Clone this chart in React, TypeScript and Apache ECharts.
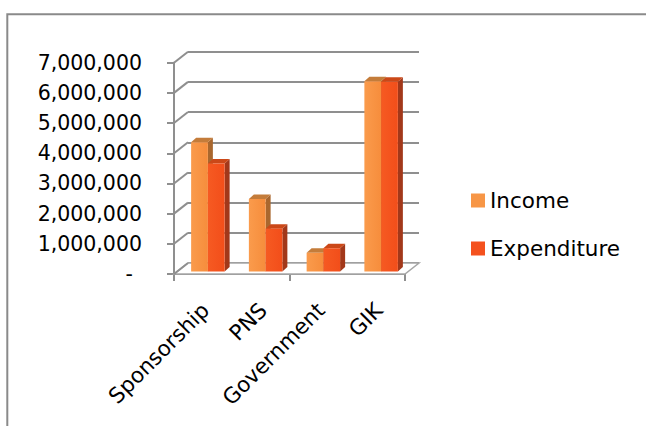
import React, { useEffect, useRef } from 'react';
import * as echarts from 'echarts';

const categories = ['Sponsorship', 'PNS', 'Government', 'GIK'];
const seriesNames = ['Income', 'Expenditure'];
const incomeValues = [4280000, 2400000, 620000, 6300000];
const expenditureValues = [3580000, 1420000, 770000, 6290000];
const yTicks = [0, 1000000, 2000000, 3000000, 4000000, 5000000, 6000000, 7000000];

const FONT = 'DejaVu Sans';
const GRID_COLOR = '#8f8f8f';

export default function App() {
  const ref = useRef<HTMLDivElement>(null);

  useEffect(() => {
    if (!ref.current) return;
    const chart = echarts.init(ref.current, null, { renderer: 'svg' });

    const W = 231;
    const H = 211.3;
    const front = { left: 174, top: 62.7 };
    const DX = 14;
    const DY = -11;
    const barOff = [5, -2.5];
    const barDepth = [5, -4.5];
    const labelOff = -2.5;

    const grids = [
      { left: front.left, top: front.top, width: W, height: H },
      { left: front.left + barOff[0], top: front.top + barOff[1], width: W, height: H },
      { left: front.left + DX, top: front.top + DY, width: W, height: H },
      { left: front.left + barOff[0] + labelOff, top: front.top + barOff[1], width: W, height: H },
    ];

    const hiddenX = (gi: number) => ({
      type: 'category',
      gridIndex: gi,
      data: categories,
      axisLine: { show: false },
      axisTick: { show: false },
      axisLabel: { show: false },
      splitLine: { show: false },
    });
    const hiddenY = (gi: number) => ({
      type: 'value',
      gridIndex: gi,
      min: 0,
      max: 7000000,
      interval: 1000000,
      axisLine: { show: false },
      axisTick: { show: false },
      axisLabel: { show: false },
      splitLine: { show: false },
    });

    const incomeColors = {
      front: new echarts.graphic.LinearGradient(0, 0, 1, 0, [
        { offset: 0, color: '#FA9B4C' },
        { offset: 1, color: '#F68D3C' },
      ]),
      top: '#C47C3A',
      side: '#A9672E',
    };
    const expColors = {
      front: new echarts.graphic.LinearGradient(0, 0, 1, 0, [
        { offset: 0, color: '#F65A22' },
        { offset: 1, color: '#F24E1A' },
      ]),
      top: '#CB4818',
      side: '#A2381A',
    };

    const makeBar = (side: 'left' | 'right', colors: any) => (params: any, api: any) => {
      const i = api.value(0);
      const v = api.value(1);
      const b = api.coord([i, 0]);
      const t = api.coord([i, v]);
      const band = api.size([1, 0])[0];
      const w = band * 0.29;
      const x1 = side === 'left' ? b[0] - w : b[0];
      const x2 = x1 + w;
      const y1 = t[1];
      const y2 = b[1];
      const dx = barDepth[0];
      const dy = barDepth[1];
      return {
        type: 'group',
        children: [
          {
            type: 'polygon',
            shape: { points: [[x2, y1], [x2 + dx, y1 + dy], [x2 + dx, y2 + dy], [x2, y2]] },
            style: { fill: colors.side },
          },
          {
            type: 'polygon',
            shape: { points: [[x1, y1], [x1 + dx, y1 + dy], [x2 + dx, y1 + dy], [x2, y1]] },
            style: { fill: colors.top },
          },
          {
            type: 'rect',
            shape: { x: x1, y: y1, width: w, height: y2 - y1 },
            style: { fill: colors.front },
          },
        ],
      };
    };

    const option: any = {
      animation: false,
      backgroundColor: '#ffffff',
      graphic: [
        {
          type: 'rect',
          shape: { x: 7.3, y: 14.3, width: 700, height: 460 },
          style: { fill: 'none', stroke: '#8a8a8a', lineWidth: 2 },
          silent: true,
          z: -1,
        },
      ],
      grid: grids,
      legend: {
        data: seriesNames,
        orient: 'vertical',
        left: 471,
        top: 189.5,
        padding: 0,
        itemWidth: 14,
        itemHeight: 14,
        itemGap: 26,
        icon: 'rect',
        textStyle: { fontFamily: FONT, fontSize: 21.5, color: '#000', lineHeight: 21 },
      },
      xAxis: [
        {
          type: 'category',
          gridIndex: 0,
          data: categories,
          axisLine: { show: true, lineStyle: { color: GRID_COLOR, width: 2 } },
          axisTick: { show: true, length: 7, lineStyle: { color: GRID_COLOR, width: 2 } },
          axisLabel: { show: false },
          splitLine: { show: false },
        },
        hiddenX(1),
        hiddenX(2),
        {
          type: 'category',
          gridIndex: 3,
          data: categories,
          axisLine: { show: false },
          axisTick: { show: false },
          splitLine: { show: false },
          axisLabel: {
            show: true,
            interval: 0,
            rotate: 45,
            margin: 35,
            fontFamily: FONT,
            fontSize: 21.5,
            color: '#000',
          },
        },
      ],
      yAxis: [
        {
          type: 'value',
          gridIndex: 0,
          min: 0,
          max: 7000000,
          interval: 1000000,
          axisLine: { show: true, lineStyle: { color: GRID_COLOR, width: 2 } },
          axisTick: { show: true, length: 7, lineStyle: { color: GRID_COLOR, width: 2 } },
          splitLine: { show: false },
          axisLabel: {
            margin: 32,
            fontFamily: FONT,
            fontSize: 20.5,
            color: '#000',
            formatter: (v: number) => (v === 0 ? '{d|-}' : v.toLocaleString('en-US')),
            rich: { d: { padding: [0, 9, 0, 0], fontFamily: FONT, fontSize: 20.5, color: '#000' } },
          },
        },
        hiddenY(1),
        {
          ...hiddenY(2),
          splitLine: { show: true, lineStyle: { color: GRID_COLOR, width: 2 } },
        },
        hiddenY(3),
      ],
      series: [
        {
          type: 'custom',
          name: 'structure',
          xAxisIndex: 0,
          yAxisIndex: 0,
          silent: true,
          z: 1,
          data: yTicks.map((v) => [0, v]),
          encode: { x: 0, y: 1 },
          renderItem: (params: any, api: any) => {
            const v = api.value(1);
            const p = api.coord([0, v]);
            const band = api.size([1, 0])[0];
            const x0 = p[0] - band / 2;
            const children: any[] = [];
            if (v === 0) {
              const xr = api.coord([categories.length - 1, 0])[0] + band / 2;
              children.push({
                type: 'polygon',
                shape: { points: [[x0, p[1]], [xr, p[1]], [xr + DX, p[1] + DY], [x0 + DX, p[1] + DY]] },
                style: { fill: '#ffffff', stroke: '#a6a6a6', lineWidth: 1.5 },
              });
            }
            children.push({
              type: 'line',
              shape: { x1: x0, y1: p[1], x2: x0 + DX, y2: p[1] + DY },
              style: { stroke: GRID_COLOR, lineWidth: 2 },
            });
            return { type: 'group', children };
          },
        },
        {
          type: 'custom',
          name: seriesNames[0],
          xAxisIndex: 1,
          yAxisIndex: 1,
          z: 3,
          itemStyle: { color: '#F79646' },
          data: incomeValues.map((v, i) => [i, v]),
          encode: { x: 0, y: 1 },
          renderItem: makeBar('left', incomeColors),
        },
        {
          type: 'custom',
          name: seriesNames[1],
          xAxisIndex: 1,
          yAxisIndex: 1,
          z: 3,
          itemStyle: { color: '#F4511E' },
          data: expenditureValues.map((v, i) => [i, v]),
          encode: { x: 0, y: 1 },
          renderItem: makeBar('right', expColors),
        },
      ],
    };

    chart.setOption(option);
    return () => chart.dispose();
  }, []);

  return <div ref={ref} style={{ position: 'fixed', left: 0, top: 0, width: 646, height: 426 }} />;
}
